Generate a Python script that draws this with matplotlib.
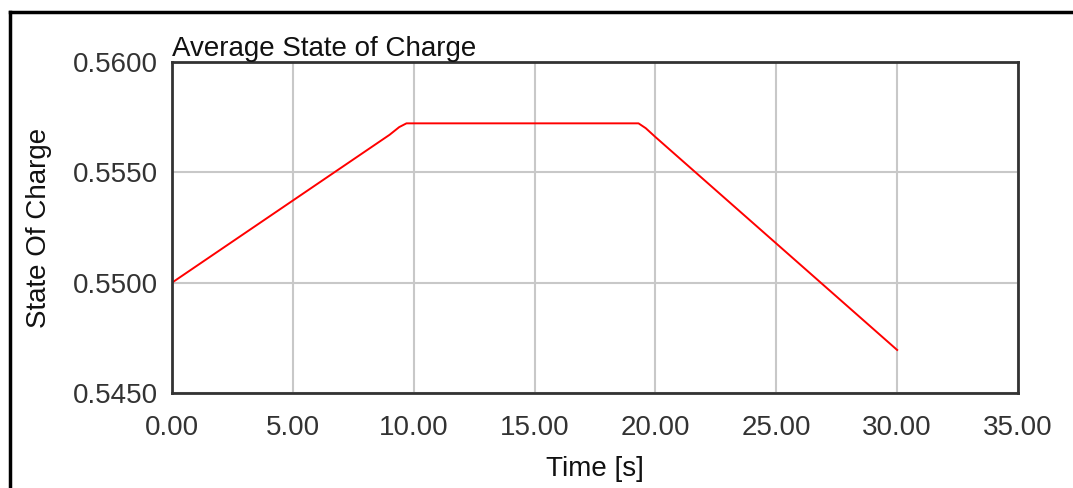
import numpy as np
import matplotlib.pyplot as plt
from matplotlib.lines import Line2D

plt.rcParams['font.family'] = ['Liberation Sans', 'DejaVu Sans']

# Average state of charge over time
time_s = [0.0, 9.0, 9.4, 9.7, 19.3, 19.6, 20.0, 30.0]
soc = [0.5500, 0.55670, 0.55705, 0.55722, 0.55722, 0.55700, 0.55660, 0.54695]

x_ticks = [0, 5, 10, 15, 20, 25, 30, 35]
y_ticks = [0.5450, 0.5500, 0.5550, 0.5600]

fig = plt.figure(figsize=(10.73, 4.88), dpi=100)
ax = fig.add_axes([172 / 1073, 1 - 393 / 488, 846 / 1073, 331 / 488])

ax.plot(time_s, soc, color='red', linewidth=1.4)

ax.set_xlim(0, 35)
ax.set_ylim(0.545, 0.560)
ax.set_xticks(x_ticks)
ax.set_yticks(y_ticks)
ax.set_xticklabels([f"{v:.2f}" for v in x_ticks])
ax.set_yticklabels([f"{v:.4f}" for v in y_ticks])
ax.tick_params(length=0, labelsize=20, colors='#333333', pad=10)
ax.tick_params(axis='x', pad=16)
ax.grid(True, color='#c8c8c8', linewidth=1.5)
for sp in ax.spines.values():
    sp.set_color('#333333')
    sp.set_linewidth(2)

ax.set_title('Average State of Charge', loc='left', fontsize=20, pad=4, color='#111111')
ax.set_xlabel('Time [s]', fontsize=20, labelpad=11, color='#111111')
ax.set_ylabel('State Of Charge', fontsize=20, labelpad=15, color='#111111')

# frame around the figure (top and left edges visible)
fig.add_artist(Line2D([9.5 / 1073, 1], [1 - 12 / 488] * 2, color='black', linewidth=2.5,
                      transform=fig.transFigure))
fig.add_artist(Line2D([9.5 / 1073] * 2, [0, 1 - 12 / 488], color='black', linewidth=2.5,
                      transform=fig.transFigure))

fig.savefig('out.png', dpi=100)
